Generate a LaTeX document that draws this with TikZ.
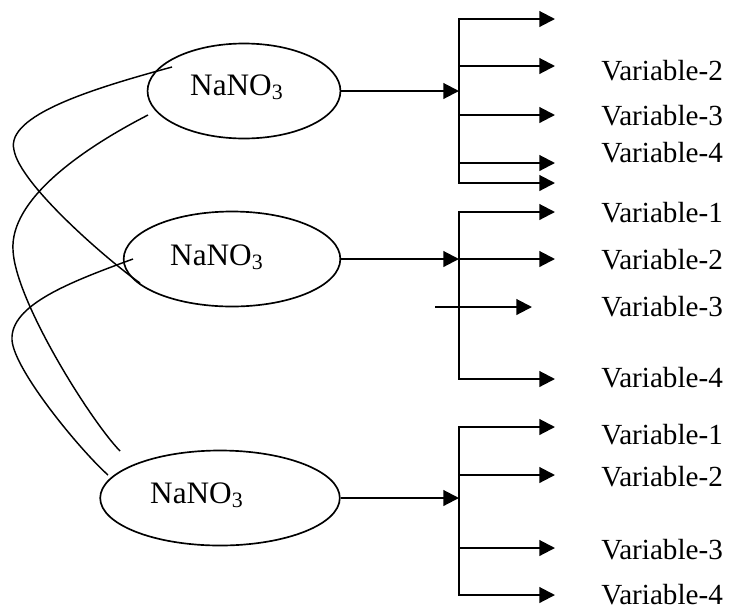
\documentclass[tikz,border=0pt]{standalone}
\usepackage{fontspec}
\setmainfont{Liberation Serif}
\usetikzlibrary{shapes.geometric, arrows.meta}

\tikzset{
	salt/.style={draw, ellipse, line width=0.8pt, minimum height=45.6pt, inner sep=0pt},
	saltname/.style={anchor=base, inner sep=0pt, font=\fontsize{15}{18}\selectfont},
	varname/.style={anchor=west, inner sep=0pt, font=\fontsize{14}{16}\selectfont},
	feed/.style={line width=1pt, -{Triangle[length=7.5pt, width=7.5pt]}},
	spine/.style={line width=1pt, line cap=rect},
	link/.style={line width=0.7pt},
}

\begin{document}
\begin{tikzpicture}[x=0.48pt, y=-0.48pt]
	\useasboundingbox (0,0) rectangle (739,613);
	% the three salts
	\node[salt, minimum width=92.6pt] (salt1) at (244,91) {};
	\node[salt, minimum width=104pt] (salt2) at (232,259) {};
	\node[salt, minimum width=115pt] (salt3) at (220,498) {};
	\node[saltname] (name1) at (237,95) {NaNO\textsubscript{3}};
	\node[saltname] (name2) at (217,265) {NaNO\textsubscript{3}};
	\node[saltname] (name3) at (197,503) {NaNO\textsubscript{3}};
	% splitting points
	\coordinate (split1) at (459,91);
	\coordinate (split2) at (459,259);
	\coordinate (split3) at (459,498);
	\draw[feed] (salt1.east) -- (split1);
	\draw[feed] (salt2.east) -- (split2);
	\draw[feed] (salt3.east) -- (split3);
	% first group of branches
	\foreach \y [count=\i] in {19,66,115,163,183} {
		\coordinate (a1-\i) at (459,\y);
		\coordinate (b1-\i) at (555,\y);
		\draw[feed] (a1-\i) -- (b1-\i);
	}
	\draw[spine] (a1-1) -- (a1-5);
	% second group
	\foreach \y [count=\i] in {212,259,379} {
		\coordinate (a2-\i) at (459,\y);
		\coordinate (b2-\i) at (555,\y);
		\draw[feed] (a2-\i) -- (b2-\i);
	}
	\draw[spine] (a2-1) -- (a2-3);
	\coordinate (stray1) at (435,307);
	\coordinate (stray2) at (532,307);
	\draw[feed] (stray1) -- (stray2);
	% third group
	\foreach \y [count=\i] in {427,475,548,595} {
		\coordinate (a3-\i) at (459,\y);
		\coordinate (b3-\i) at (555,\y);
		\draw[feed] (a3-\i) -- (b3-\i);
	}
	\draw[spine] (a3-1) -- (a3-4);
	% labels
	\node[varname] (v1-2) at (601,71) {Variable-2};
	\node[varname] (v1-3) at (601,116) {Variable-3};
	\node[varname] (v1-4) at (601,153) {Variable-4};
	\node[varname] (v2-1) at (601,213) {Variable-1};
	\node[varname] (v2-2) at (601,260) {Variable-2};
	\node[varname] (v2-3) at (601,307) {Variable-3};
	\node[varname] (v2-4) at (601,378) {Variable-4};
	\node[varname] (v3-1) at (601,435) {Variable-1};
	\node[varname] (v3-2) at (601,477) {Variable-2};
	\node[varname] (v3-3) at (601,550) {Variable-3};
	\node[varname] (v3-4) at (601,595) {Variable-4};
	% hand drawn links between the salts
	\coordinate (tailA) at (172,67);
	\coordinate (headA) at (140,283);
	\coordinate (tailB) at (148,115);
	\coordinate (headB) at (120,451);
	\coordinate (tailC) at (133,259);
	\coordinate (headC) at (108,475);
	\draw[link] (tailA) .. controls (95,88) and (5,115) .. (14,150) .. controls (20,185) and (110,262) .. (headA);
	\draw[link] (tailB) .. controls (80,150) and (10,200) .. (13,250) .. controls (15,300) and (90,420) .. (headB);
	\draw[link] (tailC) .. controls (70,282) and (10,305) .. (12,340) .. controls (14,370) and (80,450) .. (headC);
\end{tikzpicture}
\end{document}
